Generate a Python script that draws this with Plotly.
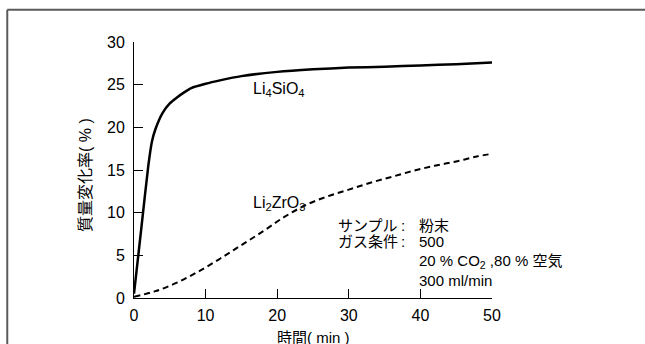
import plotly.graph_objects as go

# ---- data ----
t_si = [0, 1, 2, 2.5, 3, 4, 5, 6, 7, 8, 10, 12, 15, 20, 25, 30, 35, 40, 45, 50]
y_si = [0.5, 8.0, 15.5, 18.3, 19.8, 21.7, 22.8, 23.5, 24.1, 24.6, 25.1, 25.5, 26.0, 26.5, 26.8, 27.0, 27.1, 27.25, 27.4, 27.6]

t_zr = [0, 3, 6, 9, 12, 15, 18, 21, 24, 27, 30, 33, 36, 39, 42, 45, 48, 50]
y_zr = [0.15, 0.8, 1.8, 3.1, 4.6, 6.2, 7.8, 9.5, 10.9, 11.9, 12.7, 13.5, 14.2, 14.9, 15.5, 16.0, 16.6, 16.9]

x_ticks = [0, 10, 20, 30, 40, 50]
y_ticks = [0, 5, 10, 15, 20, 25, 30]

x_title = "時間( min )"
y_title = "質量変化率( % )"

series_labels = [
    ("Li<sub>4</sub>SiO<sub>4</sub>", 16.3, 24.4),
    ("Li<sub>2</sub>ZrO<sub>3</sub>", 16.3, 11.1),
]

cond_rows = [
    ("サンプル", ":", "粉末", 8.55),
    ("ガス条件", ":", "500", 6.6),
    ("", "", "20 % CO<sub>2</sub> ,80 % 空気", 4.25),
    ("", "", "300 ml/min", 2.1),
]

FONT = "Liberation Sans, Arial, Noto Sans CJK JP, sans-serif"
FS = 15

fig = go.Figure()
fig.add_trace(go.Scatter(x=t_si, y=y_si, mode="lines",
                         line=dict(color="black", width=2.5, shape="spline", smoothing=0.5),
                         showlegend=False, hoverinfo="skip"))
fig.add_trace(go.Scatter(x=t_zr, y=y_zr, mode="lines",
                         line=dict(color="black", width=2, dash="6px,4px", shape="spline", smoothing=1.0),
                         showlegend=False, hoverinfo="skip"))

annotations = []
for txt, x, y in series_labels:
    annotations.append(dict(x=x, y=y, xref="x", yref="y", text=txt, showarrow=False,
                            xanchor="left", yanchor="middle",
                            font=dict(family=FONT, size=16, color="black")))
for lab, colon, val, y in cond_rows:
    if lab:
        annotations.append(dict(x=28.2, y=y, xref="x", yref="y", text=lab, showarrow=False,
                                xanchor="left", yanchor="middle",
                                font=dict(family=FONT, size=FS, color="black")))
        annotations.append(dict(x=37.55, y=y, xref="x", yref="y", text=colon, showarrow=False,
                                xanchor="center", yanchor="middle",
                                font=dict(family=FONT, size=FS, color="black")))
    annotations.append(dict(x=39.5, y=y, xref="x", yref="y", text=val, showarrow=False,
                            xanchor="left", yanchor="middle",
                            font=dict(family=FONT, size=FS, color="black")))

# axis titles
annotations.append(dict(x=0.5, y=0, xref="paper", yref="paper", text=x_title, showarrow=False,
                        xanchor="center", yanchor="middle", yshift=-39,
                        font=dict(family=FONT, size=FS, color="black")))
annotations.append(dict(x=0, y=0.5, xref="paper", yref="paper", text=y_title, showarrow=False,
                        xanchor="center", yanchor="middle", xshift=-49, yshift=-5, textangle=-90,
                        font=dict(family=FONT, size=16, color="black")))

frame = dict(color="#5a5a5a", width=2)
fig.update_layout(
    width=645, height=344,
    margin=dict(l=134, r=153, t=42, b=46),
    paper_bgcolor="white", plot_bgcolor="white",
    font=dict(family=FONT, size=FS, color="black"),
    annotations=annotations,
    shapes=[
        dict(type="line", xref="paper", yref="paper", x0=-0.354, x1=-0.354, y0=-0.3, y1=1.126,
             line=frame, layer="below"),
        dict(type="line", xref="paper", yref="paper", x0=-0.354, x1=1.43, y0=1.126, y1=1.126,
             line=frame, layer="below"),
    ],
)
fig.update_xaxes(range=[0, 50], tickvals=x_ticks, ticks="inside", ticklen=9, tickwidth=1,
                 tickcolor="black", showline=True, linecolor="black", linewidth=1,
                 showgrid=False, zeroline=False, ticklabelstandoff=3,
                 tickfont=dict(family=FONT, size=16, color="black"))
fig.update_yaxes(range=[0, 30], tickvals=y_ticks, ticks="inside", ticklen=9, tickwidth=1,
                 tickcolor="black", showline=True, linecolor="black", linewidth=1,
                 showgrid=False, zeroline=False, ticklabelstandoff=5,
                 tickfont=dict(family=FONT, size=16, color="black"))

fig.write_html("out.html")
